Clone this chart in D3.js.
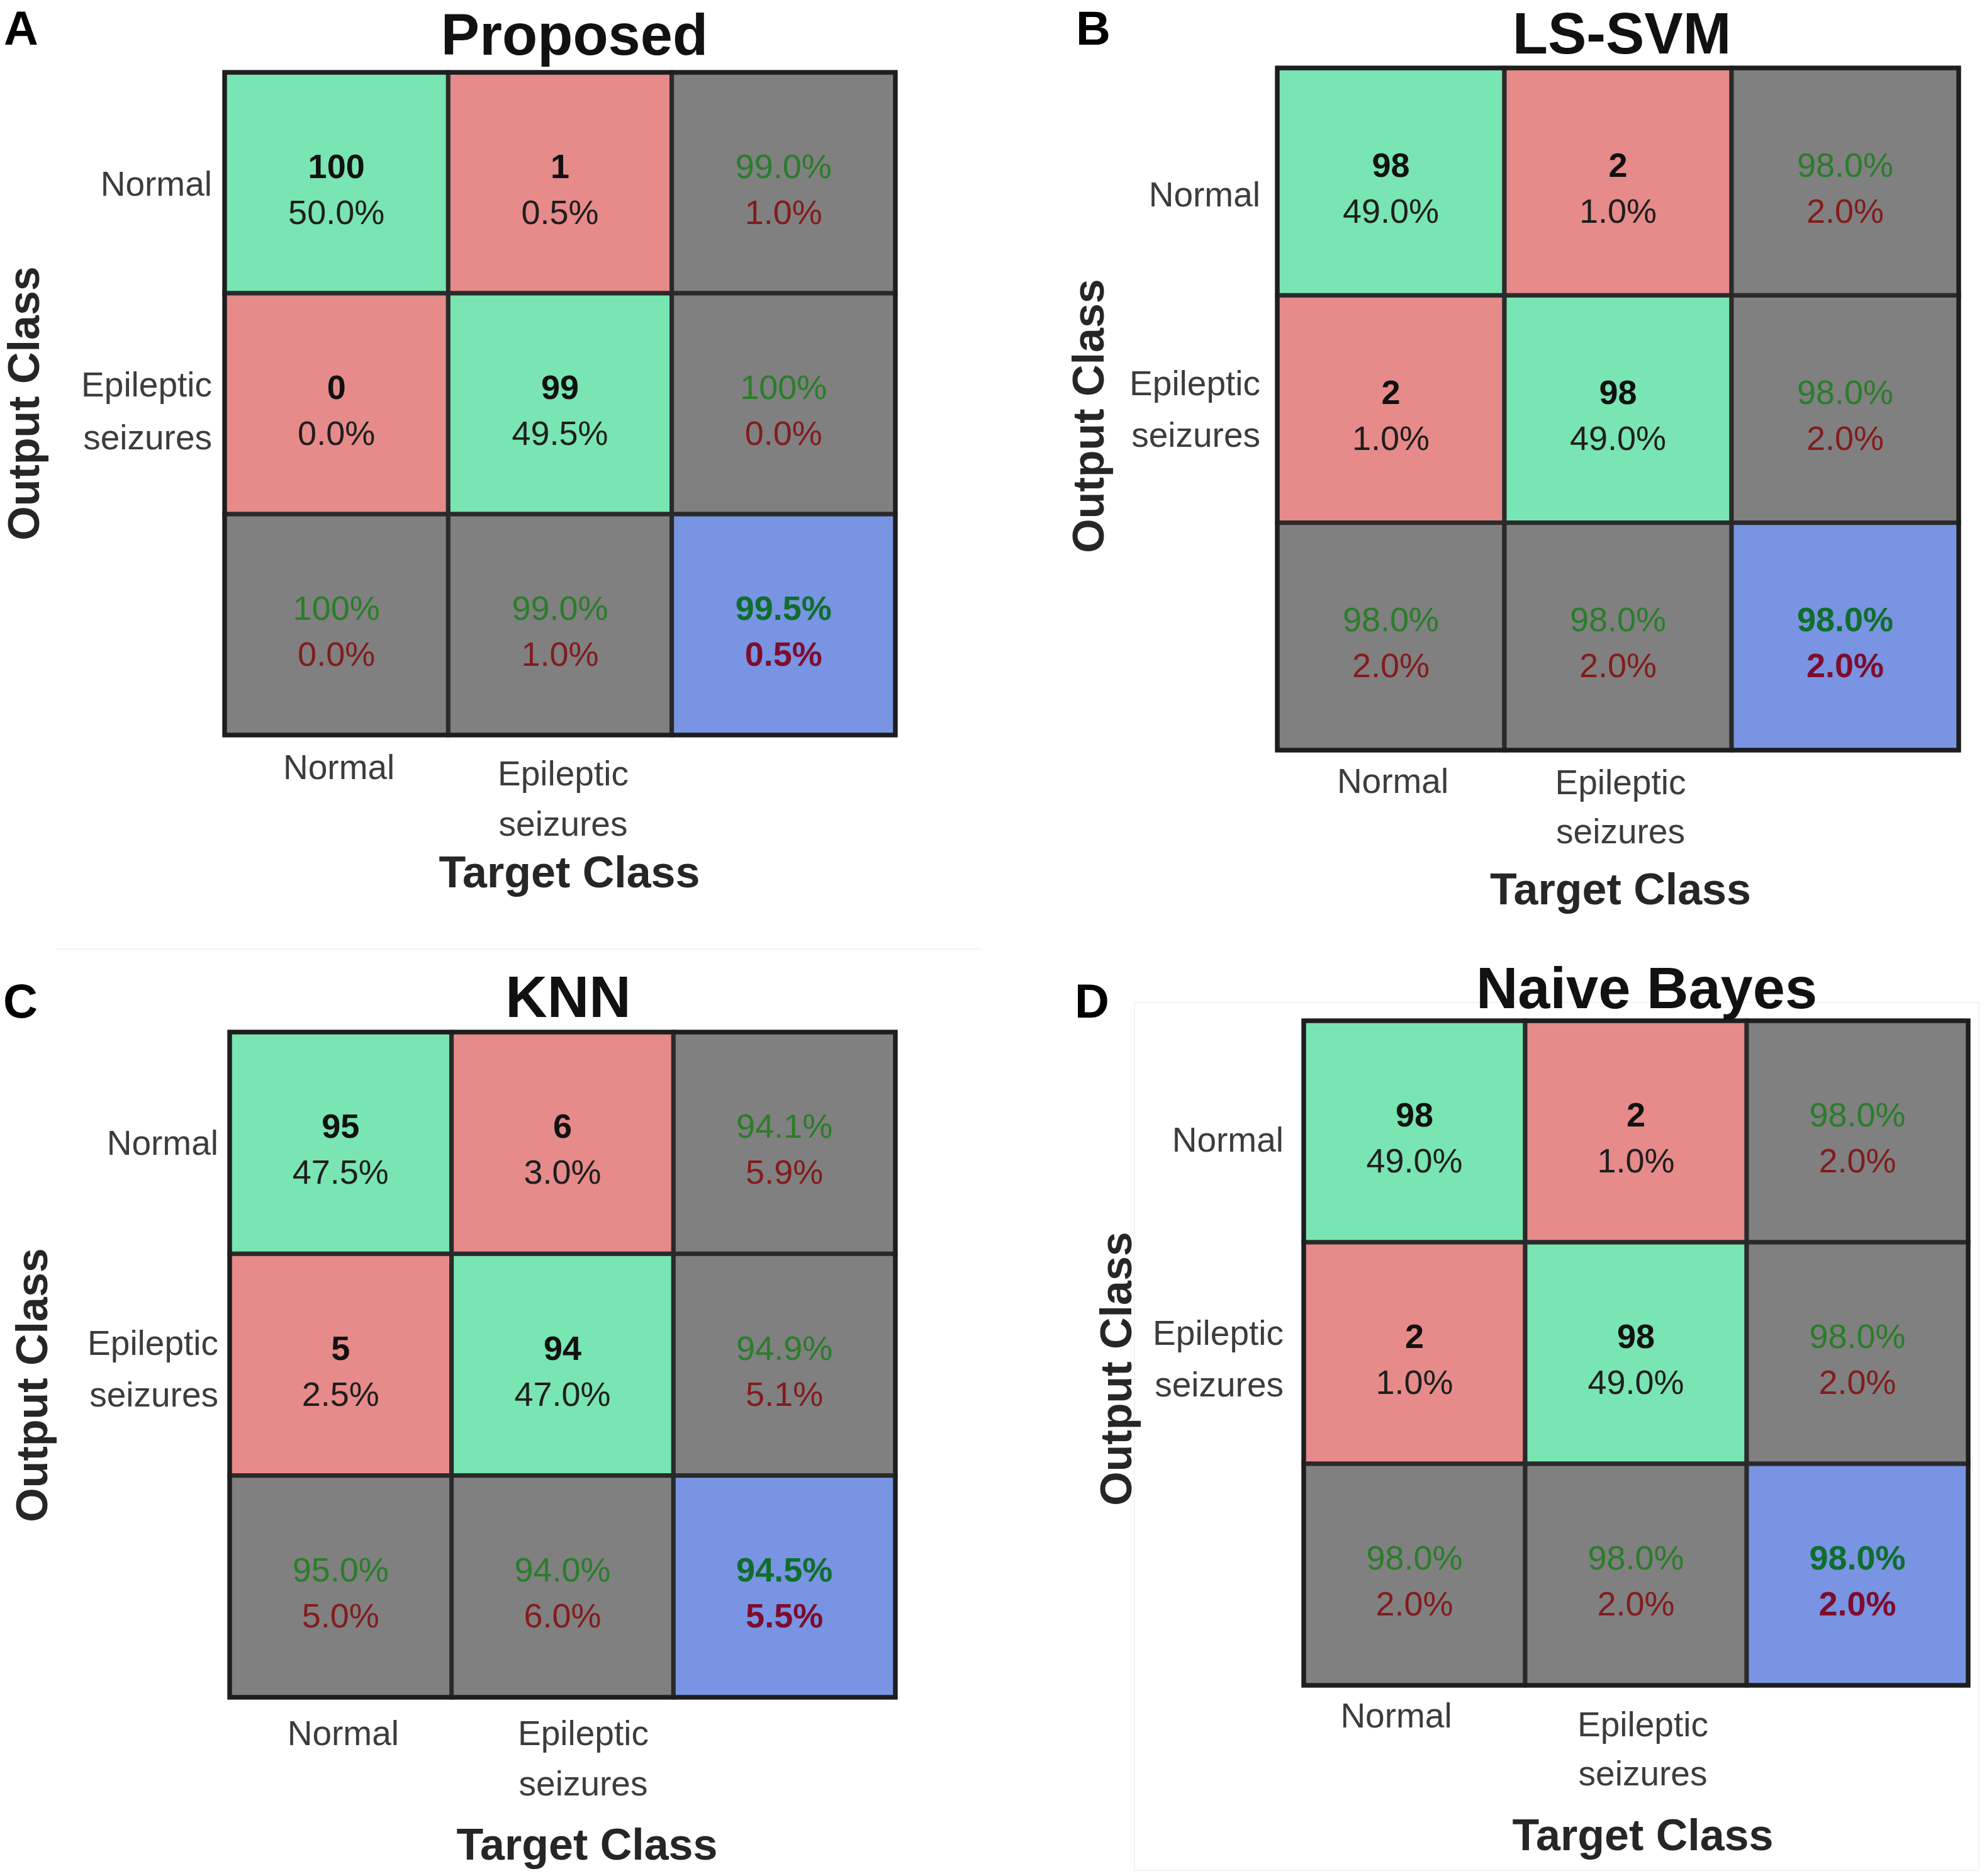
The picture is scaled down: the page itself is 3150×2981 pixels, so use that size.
<!DOCTYPE html>
<html>
<head>
<meta charset="utf-8">
<title>Confusion matrices</title>
<script src="https://d3js.org/d3.v7.min.js"></script>
<style>
  body { margin: 0; background: #fff; }
  text { font-family: "Liberation Sans", Arial, sans-serif; }
</style>
</head>
<body>
<svg id="chart" width="3150" height="2981"></svg>
<script>
// ---- data ----
var panelLetters = ['A', 'B', 'C', 'D'];
var panelTitles = ['Proposed', 'LS-SVM', 'KNN', 'Naive Bayes'];
var classLines = [['Normal'], ['Epileptic', 'seizures']];

// counts[panel][outputRow][targetCol]
var counts = [
  [[100, 1], [0, 99]],
  [[98, 2], [2, 98]],
  [[95, 6], [5, 94]],
  [[98, 2], [2, 98]]
];
var countPercents = [
  [['50.0%', '0.5%'], ['0.0%', '49.5%']],
  [['49.0%', '1.0%'], ['1.0%', '49.0%']],
  [['47.5%', '3.0%'], ['2.5%', '47.0%']],
  [['49.0%', '1.0%'], ['1.0%', '49.0%']]
];
// right column (per output row): [correct, wrong]
var rowSummary = [
  [['99.0%', '1.0%'], ['100%', '0.0%']],
  [['98.0%', '2.0%'], ['98.0%', '2.0%']],
  [['94.1%', '5.9%'], ['94.9%', '5.1%']],
  [['98.0%', '2.0%'], ['98.0%', '2.0%']]
];
// bottom row (per target column): [correct, wrong]
var colSummary = [
  [['100%', '0.0%'], ['99.0%', '1.0%']],
  [['98.0%', '2.0%'], ['98.0%', '2.0%']],
  [['95.0%', '5.0%'], ['94.0%', '6.0%']],
  [['98.0%', '2.0%'], ['98.0%', '2.0%']]
];
var overall = [['99.5%', '0.5%'], ['98.0%', '2.0%'], ['94.5%', '5.5%'], ['98.0%', '2.0%']];

// ---- layout (pixels) ----
var layout = [
  {gx: 357, gy: 115, w: 1066, h: 1053, lx: 6, ly: 71, tdx: 23, ty: 87,
   rowX: 337, rowDy: [20, -12, 72], colDy: [70, 80, 160], colDx: [4, 5], tgDx: 15, tgDy: 242, ocX: 37, ocY: 641},
  {gx: 2030, gy: 108, w: 1083, h: 1084, lx: 1710, ly: 71, tdx: 6, ty: 85,
   rowX: 2003, rowDy: [39, -22, 60], colDy: [68, 70, 148], colDx: [3, 4], tgDx: 4, tgDy: 245, ocX: 1729, ocY: 661},
  {gx: 365, gy: 1640, w: 1058, h: 1057, lx: 5, ly: 1617, tdx: 9, ty: 1616,
   rowX: 347, rowDy: [19, -16, 66], colDy: [76, 76, 156], colDx: [4, 33], tgDx: 39, tgDy: 258, ocX: 50, ocY: 2201},
  {gx: 2072, gy: 1622, w: 1056, h: 1056, lx: 1708, ly: 1617, tdx: 17, ty: 1602,
   rowX: 2040, rowDy: [32, -13, 69], colDy: [67, 81, 159], colDx: [-29, 11], tgDx: 11, tgDy: 262, ocX: 1773, ocY: 2175}
];

var fills = {diag: '#78e5b3', off: '#e68a8a', summary: '#808080', total: '#7894e3'};
var textColors = {
  diag: ['#111', '#1e1e1e'], off: ['#111', '#1e1e1e'],
  summary: ['#2a7d2a', '#821c1c'], total: ['#0f6e2c', '#7e0c2c']
};

var svg = d3.select('#chart');

// faint panel frames seen in the lower half
svg.append('line').attr('x1', 90).attr('x2', 1560).attr('y1', 1508).attr('y2', 1508)
  .attr('stroke', '#f3f3f3').attr('stroke-width', 2);
svg.append('rect').attr('x', 1803).attr('y', 1593).attr('width', 1342).attr('height', 1379)
  .attr('fill', 'none').attr('stroke', '#f3f3f3').attr('stroke-width', 2);

panelTitles.forEach(function(title, p) {
  var L = layout[p];
  var g = svg.append('g');

  var x = d3.scaleBand().domain([0, 1, 2]).range([L.gx, L.gx + L.w]);
  var y = d3.scaleBand().domain([0, 1, 2]).range([L.gy, L.gy + L.h]);

  // build the 3x3 cell list
  var cells = [];
  for (var r = 0; r < 3; r++) {
    for (var c = 0; c < 3; c++) {
      var cell = {r: r, c: c};
      if (r < 2 && c < 2) {
        cell.kind = r === c ? 'diag' : 'off';
        cell.lines = [String(counts[p][r][c]), countPercents[p][r][c]];
      } else if (r < 2) {
        cell.kind = 'summary';
        cell.lines = rowSummary[p][r];
      } else if (c < 2) {
        cell.kind = 'summary';
        cell.lines = colSummary[p][c];
      } else {
        cell.kind = 'total';
        cell.lines = overall[p];
      }
      cells.push(cell);
    }
  }

  g.selectAll('rect.cell')
    .data(cells)
    .enter()
    .append('rect')
    .attr('class', 'cell')
    .attr('x', function(d) { return x(d.c); })
    .attr('y', function(d) { return y(d.r); })
    .attr('width', x.bandwidth())
    .attr('height', y.bandwidth())
    .attr('fill', function(d) { return fills[d.kind]; })
    .attr('stroke', '#2a2a2a')
    .attr('stroke-width', 7);

  // outer frame
  g.append('rect')
    .attr('x', L.gx).attr('y', L.gy).attr('width', L.w).attr('height', L.h)
    .attr('fill', 'none').attr('stroke', '#1e1e1e').attr('stroke-width', 7);

  // cell texts
  var cellText = g.selectAll('g.ctext')
    .data(cells)
    .enter()
    .append('g')
    .attr('class', 'ctext')
    .attr('transform', function(d) {
      return 'translate(' + (x(d.c) + x.bandwidth() / 2) + ',' + (y(d.r) + y.bandwidth() / 2) + ')';
    });

  cellText.append('text')
    .attr('text-anchor', 'middle')
    .attr('y', -8)
    .attr('font-size', 54)
    .attr('font-weight', function(d) { return d.kind === 'summary' ? 'normal' : 'bold'; })
    .attr('fill', function(d) { return textColors[d.kind][0]; })
    .text(function(d) { return d.lines[0]; });

  cellText.append('text')
    .attr('text-anchor', 'middle')
    .attr('y', 65)
    .attr('font-size', 54)
    .attr('font-weight', function(d) { return d.kind === 'total' ? 'bold' : 'normal'; })
    .attr('fill', function(d) { return textColors[d.kind][1]; })
    .text(function(d) { return d.lines[1]; });

  // output (row) labels
  var rc0 = y(0) + y.bandwidth() / 2, rc1 = y(1) + y.bandwidth() / 2;
  var rowLabels = [
    {t: classLines[0][0], y: rc0 + L.rowDy[0]},
    {t: classLines[1][0], y: rc1 + L.rowDy[1]},
    {t: classLines[1][1], y: rc1 + L.rowDy[2]}
  ];
  g.selectAll('text.rowlab')
    .data(rowLabels)
    .enter()
    .append('text')
    .attr('class', 'rowlab')
    .attr('x', L.rowX)
    .attr('y', function(d) { return d.y; })
    .attr('text-anchor', 'end')
    .attr('font-size', 55)
    .attr('fill', '#3c3c3c')
    .text(function(d) { return d.t; });

  // target (column) labels
  var bottom = L.gy + L.h;
  var colLabels = [
    {t: classLines[0][0], x: x(0) + x.bandwidth() / 2 + L.colDx[0], y: bottom + L.colDy[0]},
    {t: classLines[1][0], x: x(1) + x.bandwidth() / 2 + L.colDx[1], y: bottom + L.colDy[1]},
    {t: classLines[1][1], x: x(1) + x.bandwidth() / 2 + L.colDx[1], y: bottom + L.colDy[2]}
  ];
  g.selectAll('text.collab')
    .data(colLabels)
    .enter()
    .append('text')
    .attr('class', 'collab')
    .attr('x', function(d) { return d.x; })
    .attr('y', function(d) { return d.y; })
    .attr('text-anchor', 'middle')
    .attr('font-size', 55)
    .attr('fill', '#3c3c3c')
    .text(function(d) { return d.t; });

  // axis titles
  g.append('text')
    .attr('x', L.gx + L.w / 2 + L.tgDx)
    .attr('y', bottom + L.tgDy)
    .attr('text-anchor', 'middle')
    .attr('font-size', 70)
    .attr('font-weight', 'bold')
    .attr('fill', '#262626')
    .text('Target Class');

  g.append('text')
    .attr('transform', 'translate(' + L.ocX + ',' + L.ocY + ') rotate(-90)')
    .attr('text-anchor', 'middle')
    .attr('dy', '0.35em')
    .attr('font-size', 70)
    .attr('font-weight', 'bold')
    .attr('fill', '#262626')
    .text('Output Class');

  // panel title and letter
  g.append('text')
    .attr('x', L.gx + L.w / 2 + L.tdx)
    .attr('y', L.ty)
    .attr('text-anchor', 'middle')
    .attr('font-size', 92)
    .attr('font-weight', 'bold')
    .attr('fill', '#111')
    .text(title);

  g.append('text')
    .attr('x', L.lx)
    .attr('y', L.ly)
    .attr('font-size', 76)
    .attr('font-weight', 'bold')
    .attr('fill', '#000')
    .text(panelLetters[p]);
});
</script>
</body>
</html>
